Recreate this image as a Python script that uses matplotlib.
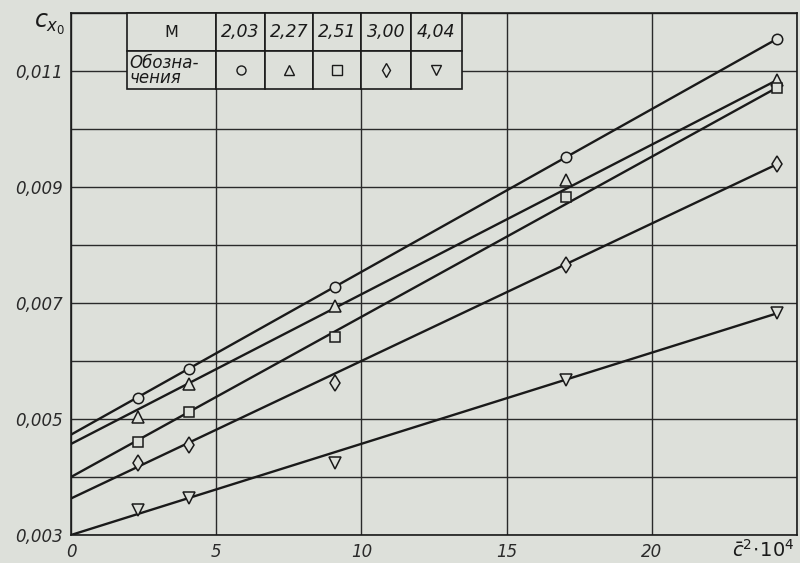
import matplotlib
matplotlib.use("Agg")
import matplotlib.pyplot as plt
from matplotlib.patches import Rectangle

# Mach numbers and their symbols
mach_labels = ["2,03", "2,27", "2,51", "3,00", "4,04"]
markers = ["o", "^", "s", "d", "v"]

# Relative thickness squared (x 10^4)
c2 = [2.3, 4.05, 9.1, 17.05, 24.3]

# Zero-lift drag coefficient for each Mach number
cx0 = [
    [0.00536, 0.00586, 0.00727, 0.00951, 0.01155],  # M = 2.03
    [0.00503, 0.00560, 0.00694, 0.00912, 0.01084],  # M = 2.27
    [0.00461, 0.00512, 0.00641, 0.00883, 0.01071],  # M = 2.51
    [0.00425, 0.00456, 0.00562, 0.00766, 0.00939],  # M = 3.00
    [0.00343, 0.00363, 0.00424, 0.00568, 0.00682],  # M = 4.04
]

# Straight-line fits: value at c^2 = 0 and at the last point
fit_start = [0.00473, 0.00457, 0.00400, 0.00363, 0.00300]
fit_end = [0.01155, 0.01084, 0.01071, 0.00939, 0.00682]

y_major = [0.003, 0.005, 0.007, 0.009, 0.011]
y_minor = [0.004, 0.006, 0.008, 0.010, 0.012]
y_labels = ["0,003", "0,005", "0,007", "0,009", "0,011"]
x_ticks = [0, 5, 10, 15, 20, 25]
x_labels = ["0", "5", "10", "15", "20", ""]

bg = "#dde0da"
ink = "#1a1a1a"

marker_size = {"o": 7.5, "^": 8.0, "s": 7.5, "d": 8.5, "v": 8.0}
table_marker_size = {"o": 6.5, "^": 6.5, "s": 6.5, "d": 7.5, "v": 6.5}

fig = plt.figure(figsize=(8.0, 5.63), dpi=100, facecolor=bg)
ax = fig.add_axes([71 / 800, 28 / 563, 726 / 800, 522 / 563], facecolor=bg)

ax.set_xlim(0, 25)
ax.set_ylim(0.003, 0.012)

ax.set_xticks(x_ticks)
ax.set_xticklabels(x_labels)
ax.set_yticks(y_major)
ax.set_yticklabels(y_labels)
ax.set_yticks(y_minor, minor=True)
ax.tick_params(axis="both", which="both", length=0)
ax.tick_params(axis="x", pad=6)
ax.tick_params(axis="y", pad=6)
for lbl in ax.get_xticklabels() + ax.get_yticklabels():
    lbl.set_fontstyle("italic")
    lbl.set_fontsize(12)
    lbl.set_color("#2a2a2a")

ax.grid(True, which="both", color="#2a2a2a", linewidth=1.0)
ax.set_axisbelow(True)
for sp in ax.spines.values():
    sp.set_color(ink)
    sp.set_linewidth(1.2)

# Fit lines and measured points
for y0, y1, ys, m in zip(fit_start, fit_end, cx0, markers):
    ax.plot([0, c2[-1]], [y0, y1], color=ink, linewidth=1.7, zorder=3,
            solid_capstyle="butt")
    ax.plot(c2, ys, linestyle="none", marker=m, markersize=marker_size[m],
            markerfacecolor=bg, markeredgecolor=ink, markeredgewidth=1.1,
            zorder=4)

# Legend table in the upper-left corner
col_edges = [1.92, 5.0, 6.68, 8.35, 10.0, 11.7, 13.45]
row_edges = [0.012, 0.01134, 0.01069]
for i in range(len(col_edges) - 1):
    for j in range(len(row_edges) - 1):
        ax.add_patch(Rectangle((col_edges[i], row_edges[j + 1]),
                               col_edges[i + 1] - col_edges[i],
                               row_edges[j] - row_edges[j + 1],
                               facecolor=bg, edgecolor=ink, linewidth=1.2,
                               zorder=5, clip_on=False))

top_mid = (row_edges[0] + row_edges[1]) / 2
bot_mid = (row_edges[1] + row_edges[2]) / 2
ax.text((col_edges[0] + col_edges[1]) / 2, top_mid, "M", ha="center",
        va="center", fontsize=11.5, color=ink, zorder=6)
ax.text(col_edges[0] + 0.1, bot_mid, "Обозна-\nчения", ha="left",
        va="center", fontsize=12, fontstyle="italic", color=ink,
        linespacing=0.8, zorder=6)
for k, (lab, m) in enumerate(zip(mach_labels, markers)):
    cx = (col_edges[k + 1] + col_edges[k + 2]) / 2
    ax.text(cx, top_mid, lab, ha="center", va="center", fontsize=12.5,
            fontstyle="italic", color=ink, zorder=6)
    ax.plot([cx], [bot_mid], linestyle="none", marker=m,
            markersize=table_marker_size[m],
            markerfacecolor=bg, markeredgecolor=ink, markeredgewidth=1.0,
            zorder=6, clip_on=False)

# Axis titles
fig.text(50 / 800, 1 - 24 / 563, r"$c_{x_0}$", ha="center", va="center",
         fontsize=17, color=ink)
fig.text(763 / 800, 1 - 550 / 563,
         r"$\bar{c}^{\mathit{2}}\!\cdot\!\mathit{10}^{\mathit{4}}$",
         ha="center", va="center", fontsize=14, color=ink)

fig.savefig("out.png", dpi=100, facecolor=bg)
